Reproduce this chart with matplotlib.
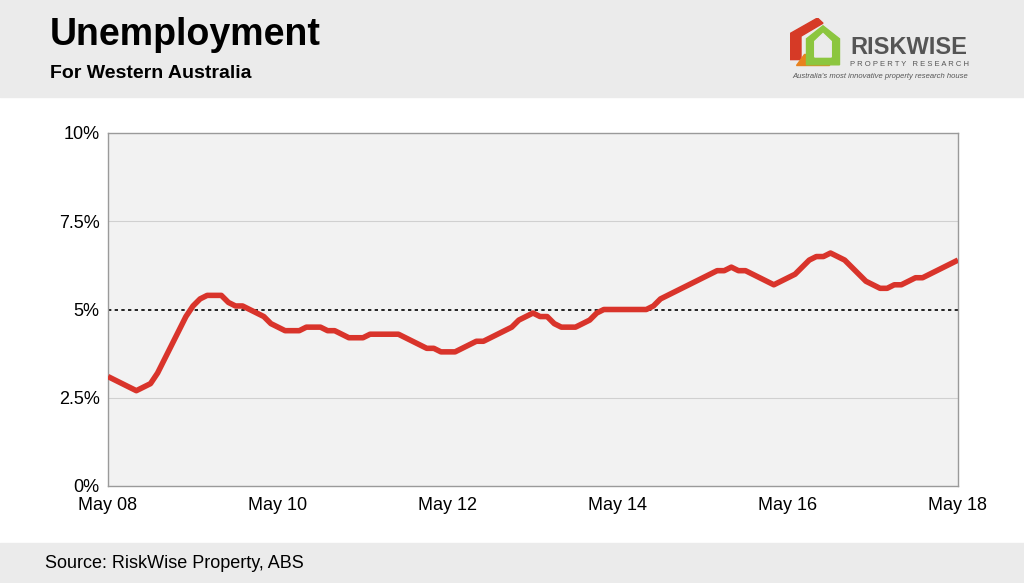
import matplotlib
matplotlib.use("Agg")
import matplotlib.pyplot as plt
import numpy as np
from matplotlib.patches import Rectangle, Polygon

rate = [3.1,3.0,2.9,2.8,2.7,2.8,2.9,3.2,3.6,4.0,4.4,4.8,5.1,5.3,5.4,5.4,5.4,5.2,5.1,5.1,
        5.0,4.9,4.8,4.6,4.5,4.4,4.4,4.4,4.5,4.5,4.5,4.4,4.4,4.3,4.2,4.2,4.2,4.3,4.3,4.3,
        4.3,4.3,4.2,4.1,4.0,3.9,3.9,3.8,3.8,3.8,3.9,4.0,4.1,4.1,4.2,4.3,4.4,4.5,4.7,4.8,
        4.9,4.8,4.8,4.6,4.5,4.5,4.5,4.6,4.7,4.9,5.0,5.0,5.0,5.0,5.0,5.0,5.0,5.1,5.3,5.4,
        5.5,5.6,5.7,5.8,5.9,6.0,6.1,6.1,6.2,6.1,6.1,6.0,5.9,5.8,5.7,5.8,5.9,6.0,6.2,6.4,
        6.5,6.5,6.6,6.5,6.4,6.2,6.0,5.8,5.7,5.6,5.6,5.7,5.7,5.8,5.9,5.9,6.0,6.1,6.2,6.3,6.4]
xticklabels = ["May 08","May 10","May 12","May 14","May 16","May 18"]
yticks = [0,2.5,5,7.5,10]
yticklabels = ["0%","2.5%","5%","7.5%","10%"]

W,H = 1024,583
fig = plt.figure(figsize=(W/100,H/100), dpi=100)
fig.patch.set_facecolor("white")
fig.add_artist(Rectangle((0,1-97/H),1,97/H,transform=fig.transFigure,color="#ebebeb",zorder=0))
fig.add_artist(Rectangle((0,0),1,40/H,transform=fig.transFigure,color="#ebebeb",zorder=0))
fig.text(50/W,1-35/H,"Unemployment",fontsize=27,fontweight="bold",va="center",family="Liberation Sans")
fig.text(50/W,1-74/H,"For Western Australia",fontsize=14,fontweight="bold",va="center",family="Liberation Sans")
fig.text(45/W,1-563/H,"Source: RiskWise Property, ABS",fontsize=13,va="center",family="Liberation Sans")

# logo
la = fig.add_axes([790/W,1-70/H,55/W,52/H]); la.set_xlim(0,10); la.set_ylim(0,10); la.axis("off")
la.add_patch(Polygon([[0,2],[0,7],[5,10],[6,9],[2,6.5],[2,2]],color="#d63a26"))
la.add_patch(Polygon([[1,1],[7,1],[7,3],[2.5,3]],color="#e8821e"))
la.add_patch(Polygon([[3,1],[3,6],[6,8.5],[9,6],[9,1]],color="#8cc63f"))
la.add_patch(Polygon([[4.5,2.5],[4.5,5.5],[6,7],[7.5,5.5],[7.5,2.5]],color="#ebebeb"))
fig.text(850/W,1-47/H,"RISKWISE",fontsize=17,fontweight="bold",color="#555555",va="center",family="Liberation Sans")
fig.text(850/W,1-64/H,"P R O P E R T Y   R E S E A R C H",fontsize=5.5,color="#555555",va="center",family="Liberation Sans")
fig.text(792/W,1-76/H,"Australia's most innovative property research house",fontsize=5.5,style="italic",color="#555555",va="center",family="Liberation Sans")

ax = fig.add_axes([108/W,1-486/H,850/W,353/H])
ax.set_facecolor("#f2f2f2")
x = np.arange(len(rate))
ax.plot(x,rate,color="#d9342b",lw=4,solid_capstyle="butt",zorder=3)
ax.axhline(5,color="black",ls=(0,(2,2)),lw=1.2,zorder=2)
for v in [2.5,7.5]:
    ax.axhline(v,color="#d0d0d0",lw=0.8,zorder=1)
ax.set_xlim(0,120); ax.set_ylim(0,10)
ax.set_xticks(np.arange(0,121,24)); ax.set_xticklabels(xticklabels,fontsize=13,family="Liberation Sans")
ax.set_yticks(yticks); ax.set_yticklabels(yticklabels,fontsize=13,family="Liberation Sans")
ax.tick_params(length=0,pad=6)
ax.tick_params(axis="x",pad=8)
for s in ax.spines.values():
    s.set_color("#9a9a9a"); s.set_linewidth(1)
fig.savefig("out.png",dpi=100)
